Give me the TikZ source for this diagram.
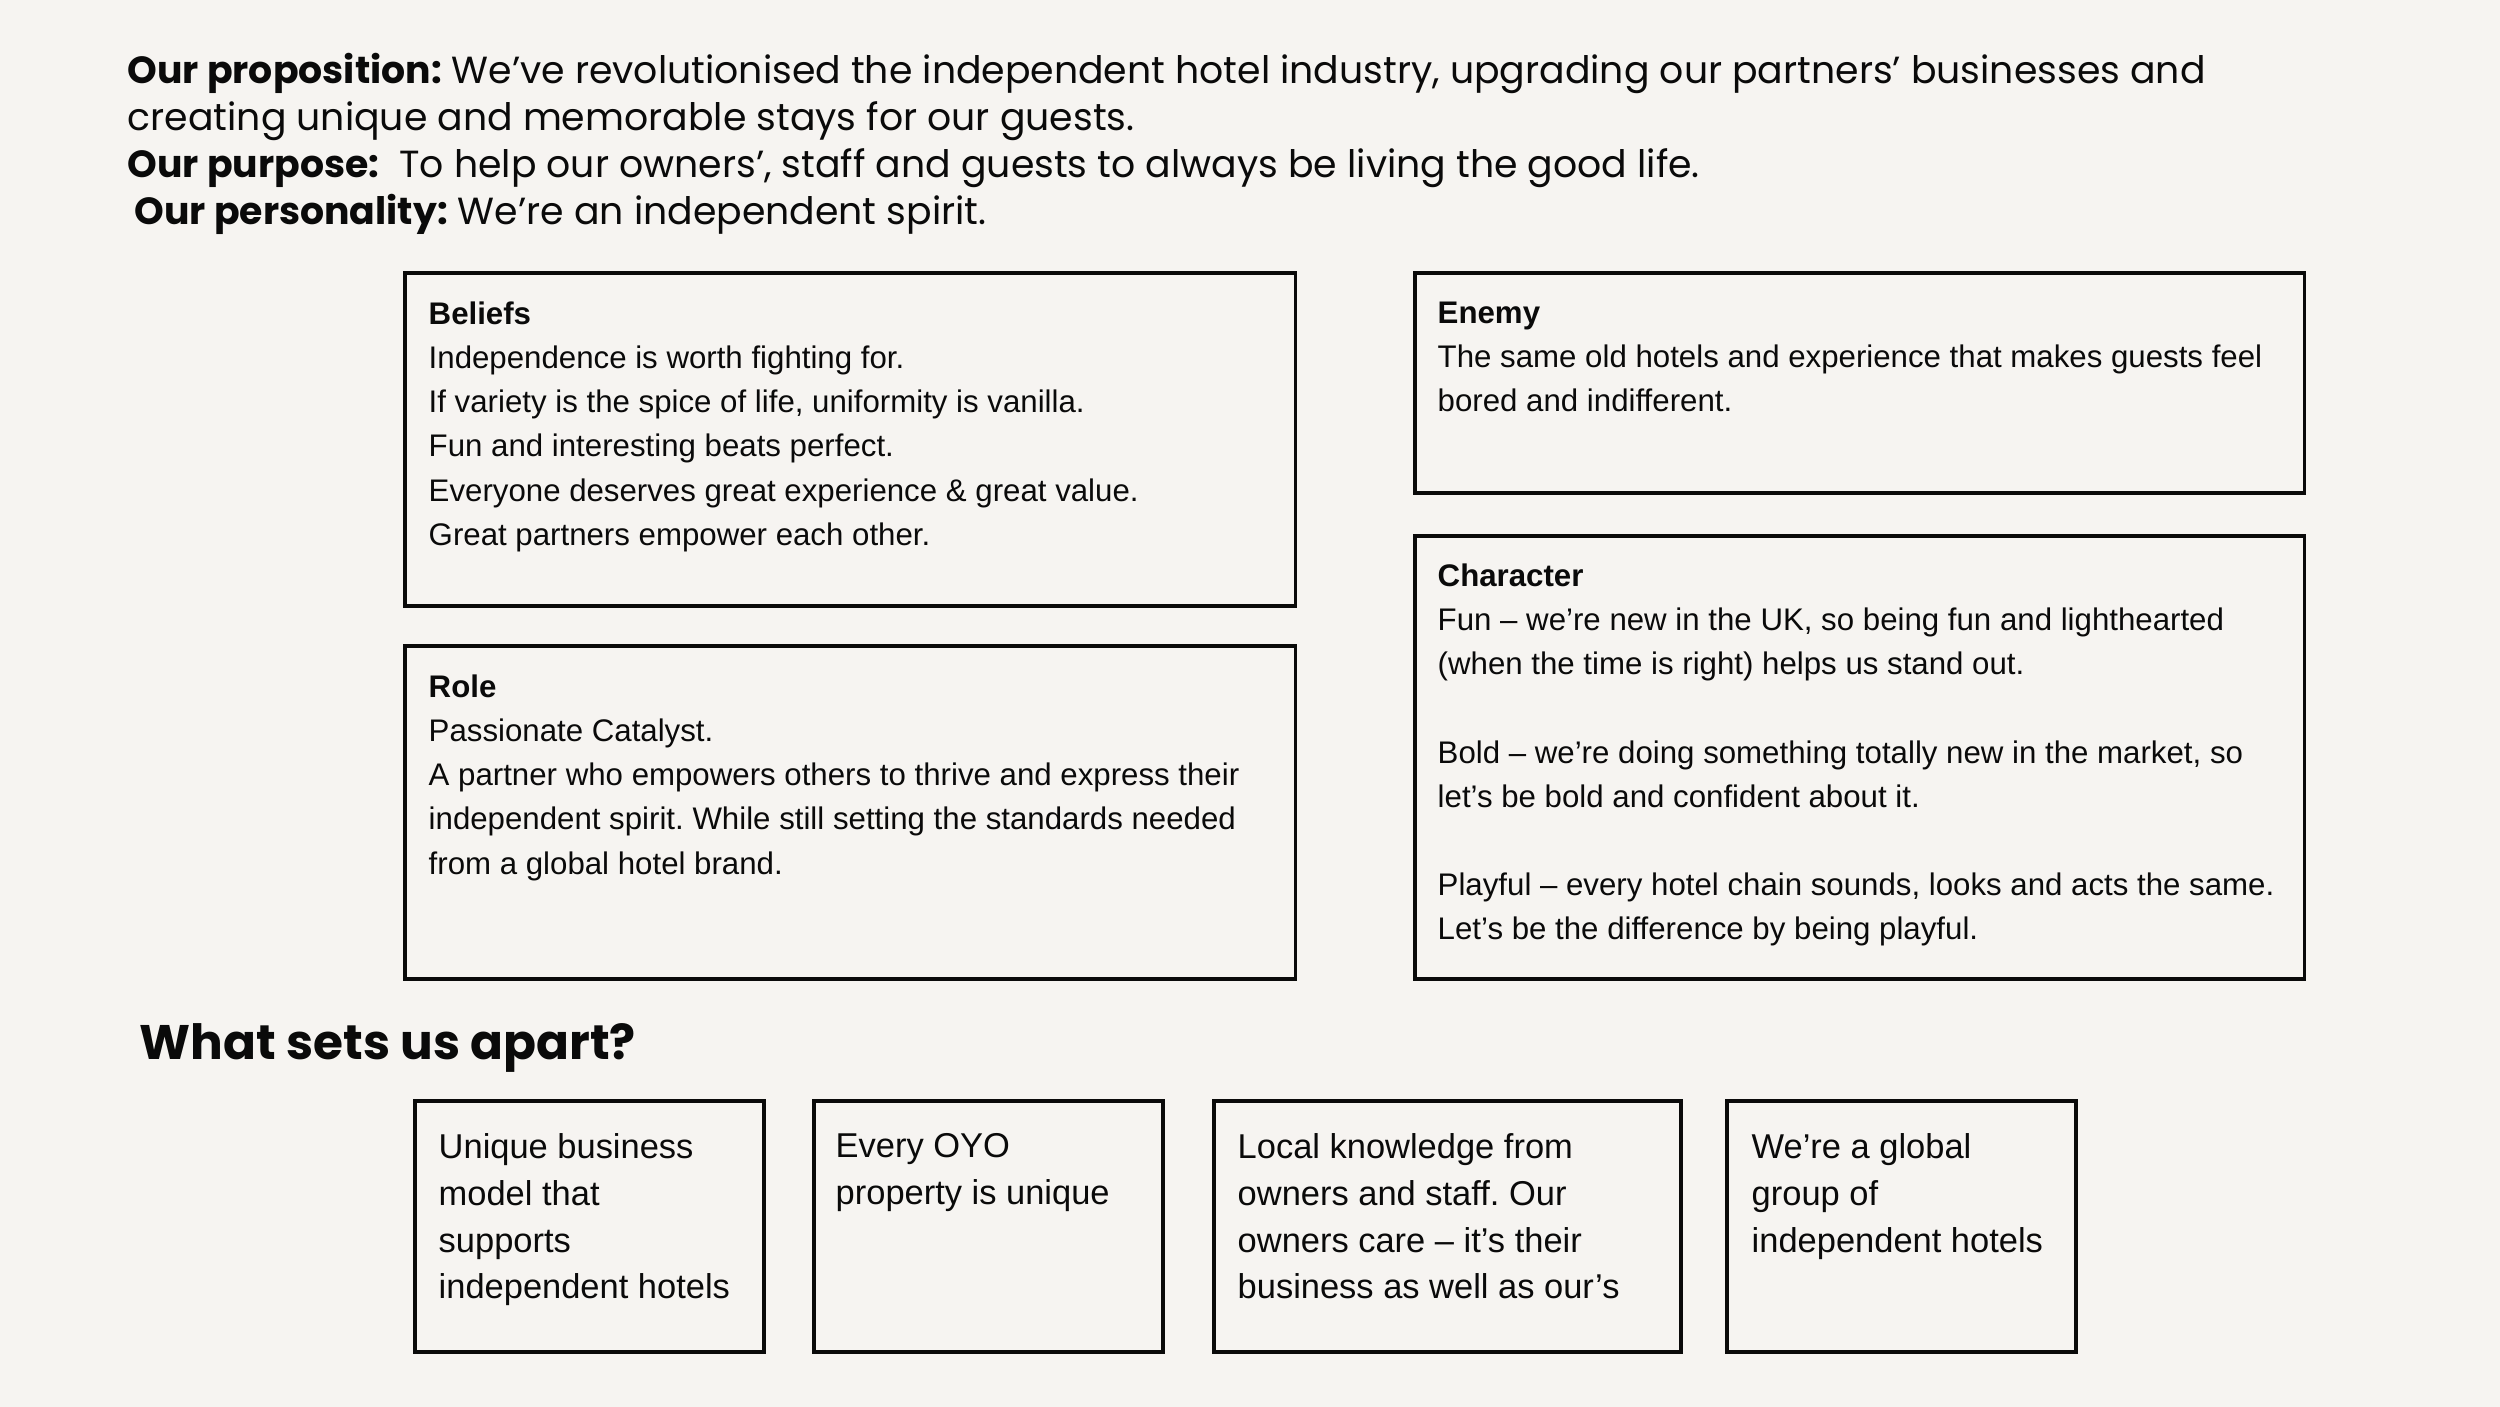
\documentclass[tikz,border=0pt]{standalone}
\usepackage{fontspec}
\setmainfont{Liberation Sans}
\newfontfamily\poppins{Poppins}
\usetikzlibrary{positioning}
\definecolor{paper}{HTML}{F6F4F1}
\definecolor{ink}{HTML}{0A0A0A}
\frenchspacing

\begin{document}
\begin{tikzpicture}[x=0.01cm, y=-0.01cm,
    card/.style={draw=ink, line width=1pt, anchor=north west, inner sep=0pt},
    cardtext/.style={anchor=north west, align=left, inner sep=0pt, text=ink,
      font=\fontsize{8.88}{12.57}\selectfont, execute at begin node=\strut},
    aparttext/.style={anchor=north west, align=left, inner sep=0pt, text=ink,
      font=\fontsize{9.8}{13.3}\selectfont, execute at begin node=\strut},
    headtext/.style={anchor=north west, align=left, inner sep=0pt, text=ink,
      font=\poppins\fontsize{10.75}{13.3}\selectfont, execute at begin node=\strut}]
  \useasboundingbox (0,0) rectangle (2500,1407);
  \fill[paper] (0,0) rectangle (2500,1407);

  % statement at the top
  \node[headtext] (header) at (127,53) {\textbf{Our proposition:} We’ve revolutionised the independent hotel industry, upgrading our partners’ businesses and\\
    creating unique and memorable stays for our guests.\\
    \textbf{Our purpose:}\ \ To help our owners’, staff and guests to always be living the good life.\\
    \hspace{2pt}\textbf{Our personality:} We’re an independent spirit.};

  % the four cards
  \node[card, minimum width=8.90cm, minimum height=3.33cm] (beliefs) at (403,271) {};
  \node[card, minimum width=8.90cm, minimum height=3.33cm] (role) at (403,644) {};
  \node[card, minimum width=8.89cm, minimum height=2.20cm] (enemy) at (1413,271) {};
  \node[card, minimum width=8.89cm, minimum height=4.43cm] (character) at (1413,534) {};

  \node[cardtext] (beliefstext) at ([shift={(25,30)}]beliefs.north west) {\textbf{Beliefs}\\
    Independence is worth fighting for.\\
    If variety is the spice of life, uniformity is vanilla.\\
    Fun and interesting beats perfect.\\
    Everyone deserves great experience \& great value.\\
    Great partners empower each other.};
  \node[cardtext] (roletext) at ([shift={(25,30)}]role.north west) {\textbf{Role}\\
    Passionate Catalyst.\\
    A partner who empowers others to thrive and express their\\
    independent spirit. While still setting the standards needed\\
    from a global hotel brand.};
  \node[cardtext] (enemytext) at ([shift={(24,30)}]enemy.north west) {\textbf{Enemy}\\
    The same old hotels and experience that makes guests feel\\
    bored and indifferent.};
  \node[cardtext] (charactertext) at ([shift={(24,29)}]character.north west) {\textbf{Character}\\
    Fun – we’re new in the UK, so being fun and lighthearted\\
    (when the time is right) helps us stand out.\\[12.57pt]
    Bold – we’re doing something totally new in the market, so\\
    let’s be bold and confident about it.\\[12.57pt]
    Playful – every hotel chain sounds, looks and acts the same.\\
    Let’s be the difference by being playful.};

  % what sets us apart
  \node[headtext, anchor=base west, font=\poppins\bfseries\fontsize{13.8}{16}\selectfont] (aparttitle) at (139,1059) {What sets us apart?};

  \node[card, minimum width=3.49cm, minimum height=2.51cm] (model) at (413,1099) {};
  \node[card, minimum width=3.49cm, minimum height=2.51cm] (property) at (812,1099) {};
  \node[card, minimum width=4.67cm, minimum height=2.51cm] (local) at (1212,1099) {};
  \node[card, minimum width=3.49cm, minimum height=2.51cm] (global) at (1725,1099) {};

  \node[aparttext] (modeltext) at ([shift={(25,34)}]model.north west) {Unique business\\ model that\\ supports\\ independent hotels};
  \node[aparttext] (propertytext) at ([shift={(23,34)}]property.north west) {Every OYO\\ property is unique};
  \node[aparttext] (localtext) at ([shift={(25,34)}]local.north west) {Local knowledge from\\ owners and staff. Our\\ owners care – it’s their\\ business as well as our’s};
  \node[aparttext] (globaltext) at ([shift={(26,34)}]global.north west) {We’re a global\\ group of\\ independent hotels};
\end{tikzpicture}
\end{document}
